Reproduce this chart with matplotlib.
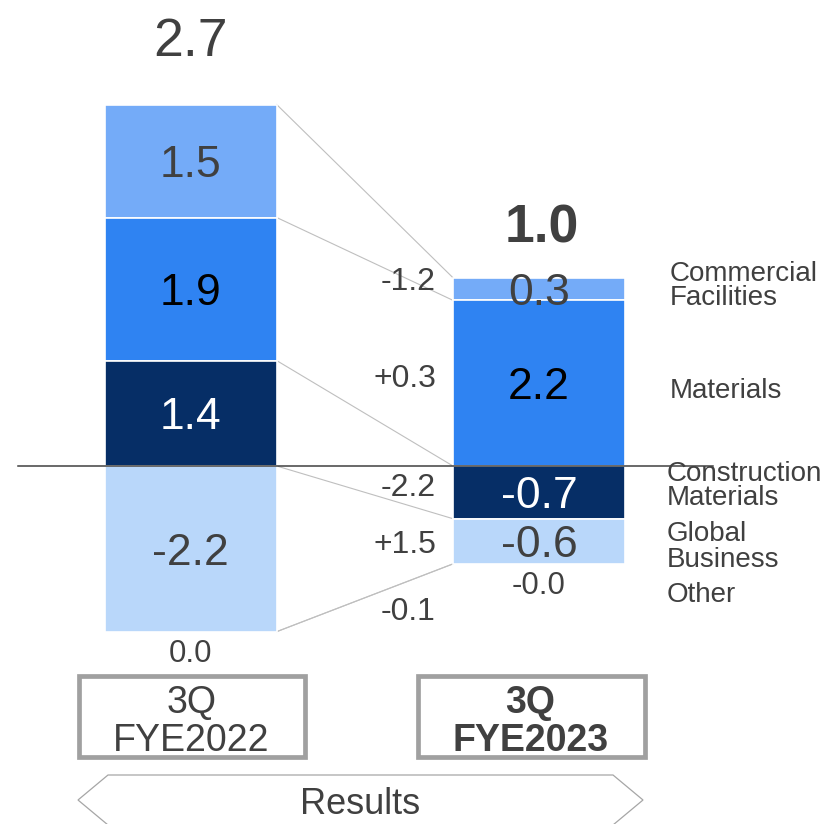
import matplotlib
matplotlib.use('Agg')
import matplotlib.pyplot as plt
from matplotlib.patches import Rectangle, Polygon
from matplotlib.transforms import Affine2D

plt.rcParams['font.family'] = ['Liberation Sans', 'DejaVu Sans']

# ---------------- data ----------------
periods = ['3Q', 'FYE2022'], ['3Q', 'FYE2023']
segments = ['Commercial\nFacilities', 'Materials', 'Construction\nMaterials',
            'Global\nBusiness', 'Other']
fy2022 = [1.5, 1.9, 1.4, -2.2, 0.0]
fy2023 = [0.3, 2.2, -0.7, -0.6, -0.0]
totals = [2.7, 1.0]
changes = [-1.2, 0.3, -2.2, 1.5, -0.1]
footer = 'Results'

# ---------------- style ----------------
colors = ['#74ABF8', '#2F83F2', '#062E66', '#B9D7FA', '#D9D9D9']
label_colors = ['#404040', '#000000', '#FFFFFF', '#404040', '#404040']
TXT = '#404040'

W, H = 821, 824
fig = plt.figure(figsize=(W / 100, H / 100), dpi=100)
ax = fig.add_axes([0, 0, 1, 1])
X0, XS = 190.7, 348.3      # pixel of x=0, pixels per category
Y0, YS = 466.0, 75.3       # pixel of y=0, pixels per unit
ax.set_xlim(-X0 / XS, (W - X0) / XS)
ax.set_ylim(-(H - Y0) / YS, Y0 / YS)
ax.axis('off')
pix = Affine2D().scale(1, -1).translate(0, H)   # top-left pixel coordinates


def px2x(p):
    return (p - X0) / XS


def stack(vals):
    bottoms = [0.0] * len(vals)
    pos = 0.0
    for i in reversed(range(len(vals))):
        if vals[i] > 0:
            bottoms[i] = pos
            pos += vals[i]
    neg = 0.0
    for i in range(len(vals)):
        if not vals[i] > 0:
            bottoms[i] = neg
            neg += vals[i]
    return bottoms


def digit_text(x, y, s, fs, **kw):
    ax.annotate(s, (x, y), xytext=(0, -0.358 * fs), textcoords='offset points',
                ha=kw.pop('ha', 'center'), va='baseline', fontsize=fs, **kw)


bar_w = 172 / XS
xs = [0, 1]
edges = []
for xi, vals in zip(xs, [fy2022, fy2023]):
    bots = stack(vals)
    upper = []
    for i, (v, b) in enumerate(zip(vals, bots)):
        if abs(v) > 1e-9:
            ax.bar(xi, v, bottom=b, width=bar_w, color=colors[i],
                   edgecolor='white', linewidth=1.2, zorder=2)
            digit_text(xi, b + v / 2, f'{v:.1f}', 32, color=label_colors[i], zorder=5)
        else:
            ax.annotate(f'{v:.1f}', (xi, b), xytext=(0, -5), textcoords='offset points',
                        ha='center', va='top', fontsize=22.5, color=TXT)
        upper.append(b + max(v, 0))
    upper.append(bots[-1] + min(vals[-1], 0))
    edges.append(upper)

# connectors
for yl, yr in zip(edges[0], edges[1]):
    ax.plot([xs[0] + bar_w / 2, xs[1] - bar_w / 2], [yl, yr], color='#BFBFBF',
            lw=0.8, zorder=1)

# zero line
ax.plot([px2x(18), px2x(713)], [0, 0], color='#404040', lw=1.1, zorder=4)

# totals
ax.text(190.5, 36, f'{totals[0]:.1f}', transform=pix, ha='center', va='center_baseline',
        fontsize=38.5, color=TXT)
ax.text(541.5, 223, f'{totals[1]:.1f}', transform=pix, ha='center', va='center_baseline',
        fontsize=38.5, color=TXT, fontweight='bold')

# change labels
change_y = [278.5, 376, 485, 541.5, 608.5]
for v, py in zip(changes, change_y):
    ax.annotate(f'{v:+.1f}', (436, H - py), xycoords='figure pixels',
                xytext=(0, -0.358 * 23), textcoords='offset points',
                ha='right', va='baseline', fontsize=23, color=TXT)

# segment names (last-line baselines in pixels)
seg_base = [305, 398, 505, 567, 602]
seg_x = [670, 670, 667, 667, 667]
seg_ls = [0.92, 1.0, 0.92, 1.0, 1.0]
for s, b, sx, ls in zip(segments, seg_base, seg_x, seg_ls):
    ax.text(sx, b, s, transform=pix, ha='left', va='baseline', fontsize=20, color=TXT,
            linespacing=ls)

# period boxes
box_x = [(78.5, 304.5), (417.5, 644.5)]
box_cx = [191.5, 530.5]
for (l, r), cx, lines, bold in zip(box_x, box_cx, periods, [False, True]):
    ax.add_patch(Rectangle((l, H - 756.5), r - l, 81, transform=None,
                           fill=False, edgecolor='#A0A0A0', lw=3.4, zorder=3))
    for s, py in zip(lines, [699, 737]):
        ax.text(cx, py, s, transform=pix, ha='center', va='center_baseline', fontsize=27,
                color=TXT, fontweight='bold' if bold else 'normal')

# footer hexagon
hexagon = [(78, 800), (108, 775), (613, 775), (643, 800), (613, 825), (108, 825)]
ax.add_patch(Polygon(hexagon, closed=True, transform=pix, fill=False,
                     edgecolor='#A6A6A6', lw=0.9))
ax.text(360, 801, footer, transform=pix, ha='center', va='center_baseline', fontsize=26,
        color=TXT)

fig.savefig('out.png', dpi=100)
